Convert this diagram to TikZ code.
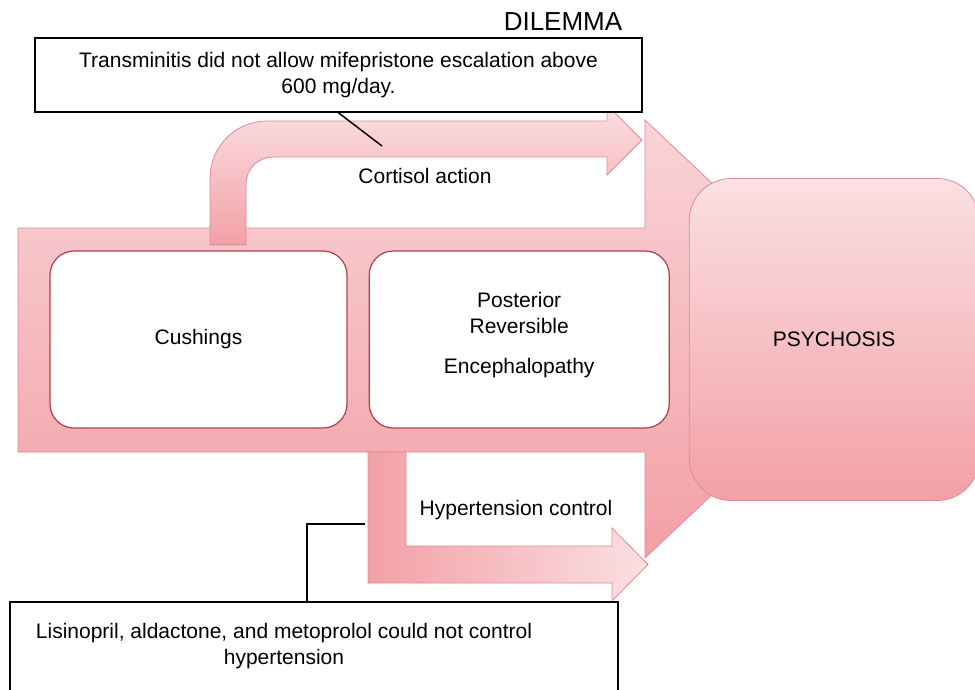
\documentclass[tikz,border=0pt]{standalone}
\usepackage{fontspec}
\setsansfont{Liberation Sans}
\usetikzlibrary{positioning,calc}

\definecolor{pinkPale}{RGB}{251,224,226}
\definecolor{pinkLight}{RGB}{249,212,215}
\definecolor{pinkDark}{RGB}{242,160,166}
\definecolor{pinkEdge}{RGB}{222,140,148}
\definecolor{redEdge}{RGB}{176,64,74}

\tikzset{
    flowarrow/.style={draw=pinkEdge, line width=0.8pt},
    condbox/.style={draw=redEdge, line width=1.2pt, fill=white,
                    rounded corners=24pt, minimum height=177pt, align=center},
    notebox/.style={draw=black, line width=1.6pt, fill=white, align=center},
    callout/.style={draw=black, line width=1.5pt}
}

\begin{document}
\begin{tikzpicture}[x=1pt, y=-1pt, font=\sffamily\fontsize{21}{26}\selectfont]
    % Canvas
    \useasboundingbox (0,0) rectangle (975,689);
    \clip (0,0) rectangle (975,689);
    \fill[white] (0,0) rectangle (975,689);
    % Main arrow into the outcome
    \path[flowarrow, top color=pinkLight, bottom color=pinkDark]
        (18,228) -- (645,228) -- (645,120) -- (877,339)
        -- (645,558) -- (645,452) -- (18,452) -- cycle;
    % Upper arrow
    \path[flowarrow, top color=pinkPale, bottom color=pinkDark]
        (210,245) -- (210,178) arc[start angle=180, end angle=270, radius=57]
        -- (607,121) -- (607,105) -- (642,140) -- (607,175) -- (607,157)
        -- (273,157) arc[start angle=270, end angle=180, radius=27]
        -- (246,245) -- cycle;
    % Lower arrow
    \path[flowarrow, left color=pinkDark, right color=pinkPale]
        (368,452) -- (368,583) -- (612,583) -- (612,601) -- (648,564.5)
        -- (612,528) -- (612,546) -- (406,546) -- (406,452) -- cycle;
    % Add the conditions
    \node[condbox,
          minimum width=297pt] (cush) at (198.5,339.5) {Cushings};
    \node[condbox,
          right=21pt of cush,
          minimum width=300pt] (pres)
          {Posterior\\Reversible\\[14pt]Encephalopathy\\[-12pt]\mbox{}};
    \node[draw=pinkEdge,
          line width=0.8pt,
          top color=pinkPale,
          bottom color=pinkDark,
          rounded corners=42pt,
          right=19pt of pres,
          minimum width=290pt,
          minimum height=322pt] (psy) {PSYCHOSIS};
    % Labels
    \node[font=\sffamily\fontsize{26}{30}\selectfont] (title) at (563,22) {DILEMMA};
    \node (cortisol) at (425,176) {Cortisol action};
    \node (hyper) at (516,510) {Hypertension control};
    % Notes
    \node[notebox,
          minimum width=607pt,
          minimum height=74pt] (transbox) at (338.5,75)
          {Transminitis did not allow mifepristone escalation above\\600 mg/day.};
    \node[notebox,
          minimum width=608pt,
          minimum height=98pt] (lisbox) at (314,651) {};
    \node[align=center] (listext) at (284,646)
          {Lisinopril, aldactone, and metoprolol could not control\\hypertension};
    % Connect the notes with the arrows
    \coordinate (cortend) at (382,146);
    \coordinate (hypend) at (365,524);
    \draw[callout] (transbox.south) -- (cortend);
    \draw[callout] (hypend) -| ([xshift=-7pt]lisbox.north);
\end{tikzpicture}
\end{document}
